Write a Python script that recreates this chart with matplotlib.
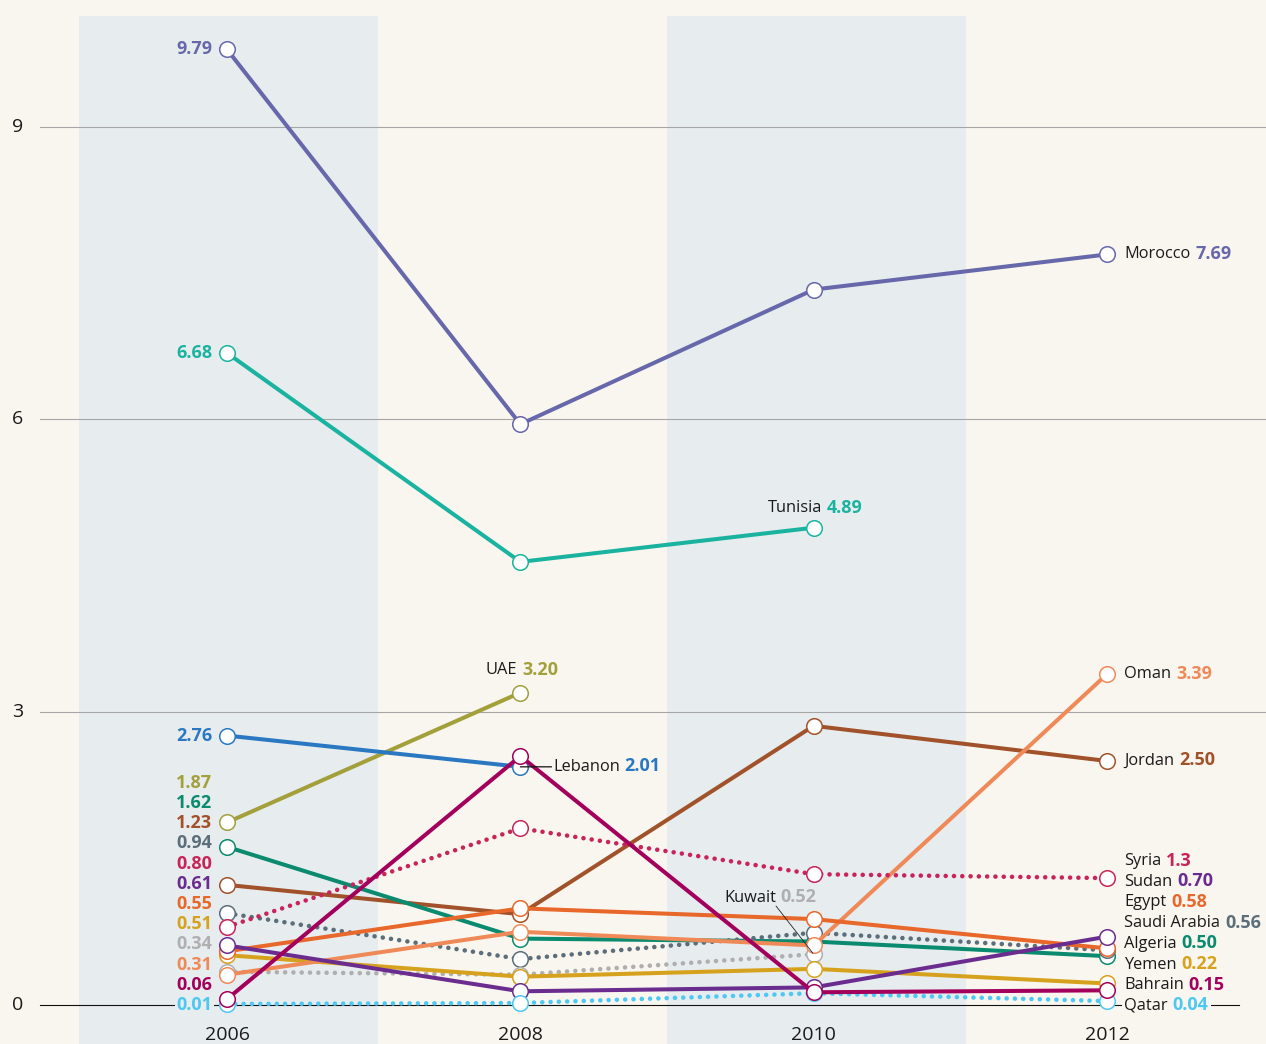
import numpy as np
import matplotlib.pyplot as plt

plt.rcParams['font.family'] = ['Open Sans', 'DejaVu Sans']

nan = np.nan
years = [2006, 2008, 2010, 2012]

# values (marker positions)
morocco = [9.79, 5.95, 7.33, 7.69]
tunisia = [6.68, 4.54, 4.89, nan]
uae = [1.87, 3.20, nan, nan]
lebanon = [2.76, 2.44, nan, nan]
bahrain = [0.06, 2.55, 0.13, 0.15]
syria = [0.80, 1.81, 1.34, 1.30]
jordan = [1.23, 0.93, 2.86, 2.50]
algeria = [1.62, 0.68, 0.65, 0.50]
saudi = [0.94, 0.47, 0.74, 0.56]
sudan = [0.61, 0.14, 0.18, 0.70]
egypt = [0.55, 0.99, 0.88, 0.58]
yemen = [0.51, 0.29, 0.37, 0.22]
kuwait = [0.34, 0.31, 0.52, nan]
oman = [0.31, 0.75, 0.61, 3.39]
qatar = [0.01, 0.02, 0.12, 0.04]

bg = '#f9f6ef'
band = '#e7ecee'

# name, values, colour, dotted
series = [
    ('Morocco', morocco, '#6767ab', False),
    ('Tunisia', tunisia, '#1ab3a0', False),
    ('UAE', uae, '#a3a03c', False),
    ('Lebanon', lebanon, '#2a78c2', False),
    ('Jordan', jordan, '#a1522a', False),
    ('Algeria', algeria, '#0a8a6e', False),
    ('Saudi Arabia', saudi, '#5b6e7a', True),
    ('Kuwait', kuwait, '#afafaf', True),
    ('Yemen', yemen, '#d6a21e', False),
    ('Oman', oman, '#ef8a58', False),
    ('Egypt', egypt, '#e8672a', False),
    ('Syria', syria, '#c8245a', True),
    ('Sudan', sudan, '#6a2d8f', False),
    ('Qatar', qatar, '#4cc8f2', True),
    ('Bahrain', bahrain, '#a3005c', False),
]
col = {s[0]: s[2] for s in series}

fig = plt.figure(figsize=(12.66, 10.44), dpi=100)
fig.patch.set_facecolor(bg)
ax = fig.add_axes([0, 0, 1, 1])
ax.set_facecolor(bg)
ax.set_xlim(2004.452, 2013.084)
ax.set_ylim(-0.40, 10.297)
ax.axis('off')

# shaded year bands
for x0, x1 in [(2004.99, 2007.03), (2009.0, 2011.04)]:
    ax.axvspan(x0, x1, ymin=0, ymax=0.9847, color=band, lw=0, zorder=0)

# grid
tfs = 14
for yv in [3, 6, 9]:
    ax.axhline(yv, xmin=0.0316, xmax=1, color='#a6a6a6', lw=0.8, zorder=1)
    ax.text(0.0142, yv, str(yv), transform=ax.get_yaxis_transform(),
            ha='center', va='center', fontsize=tfs, color='#1a1a1a')
ax.axhline(0, xmin=0.0316, xmax=0.979, color='#111111', lw=0.8, zorder=1)
ax.text(0.0142, 0, '0', transform=ax.get_yaxis_transform(),
        ha='center', va='center', fontsize=tfs, color='#1a1a1a')
for yr in years:
    ax.text(yr, -0.31, str(yr), ha='center', va='center', fontsize=tfs, color='#1a1a1a')

# lines and markers
for i, (name, vals, c, dotted) in enumerate(series):
    if dotted:
        ax.plot(years, vals, color=c, lw=3.3, ls=(0, (0.01, 1.8)),
                dash_capstyle='round', zorder=3 + i * 0.1)
    else:
        ax.plot(years, vals, color=c, lw=2.9, solid_capstyle='round', zorder=3 + i * 0.1)
    ax.plot(years, vals, 'o', ls='none', mfc='white', mec=c, ms=11.2, mew=1.1,
            zorder=3.05 + i * 0.1)

fs = 11.8   # names
nfs = 13.0  # bold values


def pair(x, y, name, value, c, ha='left', box=False):
    kw = {}
    if box:
        kw['bbox'] = dict(boxstyle='square,pad=0.15', fc=bg, ec='none')
    t = ax.text(x, y, name, ha=ha, va='center', fontsize=fs, color='#1a1a1a',
                zorder=6, **kw)
    ax.annotate(value, xy=(1, 0), xycoords=t, xytext=(3.5, -0.3), textcoords='offset points',
                ha='left', va='bottom', fontsize=nfs, fontweight='bold', color=c,
                zorder=6, **kw)
    return t


# left labels
lx = 2005.9
for v, name in [(9.79, 'Morocco'), (6.68, 'Tunisia'), (2.76, 'Lebanon')]:
    ax.text(lx, v, f'{v:.2f}', ha='right', va='center', fontsize=nfs,
            fontweight='bold', color=col[name], zorder=6)
left_stack = [('1.87', 'UAE'), ('1.62', 'Algeria'), ('1.23', 'Jordan'), ('0.94', 'Saudi Arabia'),
              ('0.80', 'Syria'), ('0.61', 'Sudan'), ('0.55', 'Egypt'), ('0.51', 'Yemen'),
              ('0.34', 'Kuwait'), ('0.31', 'Oman'), ('0.06', 'Bahrain'), ('0.01', 'Qatar')]
for k, (txt, name) in enumerate(left_stack):
    yy = (len(left_stack) - 1 - k) * 0.207
    ax.text(lx, yy, txt, ha='right', va='center', fontsize=nfs, fontweight='bold',
            color=col[name], zorder=6,
            bbox=dict(boxstyle='square,pad=0.1', fc=band, ec='none') if k == len(left_stack) - 1 else None)

# right labels
rx = 2012.116
pair(rx, morocco[3], 'Morocco', '7.69', col['Morocco'])
pair(rx, oman[3], 'Oman', '3.39', col['Oman'])
pair(rx, jordan[3], 'Jordan', '2.50', col['Jordan'])
right_stack = [('Syria', '1.3'), ('Sudan', '0.70'), ('Egypt', '0.58'), ('Saudi Arabia', '0.56'),
               ('Algeria', '0.50'), ('Yemen', '0.22'), ('Bahrain', '0.15'), ('Qatar', '0.04')]
for k, (name, txt) in enumerate(right_stack):
    yy = -0.01 + (len(right_stack) - 1 - k) * 0.212
    pair(rx, yy, name, txt, col[name], box=(name == 'Qatar'))

# in-chart labels
pair(2007.98, 3.43, 'UAE', '3.20', col['UAE'], ha='right')
pair(2010.055, 5.09, 'Tunisia', '4.89', col['Tunisia'], ha='right')
tk = pair(2009.743, 1.096, 'Kuwait', '0.52', col['Kuwait'], ha='right')
ax.annotate('', xy=(2010, kuwait[2]), xytext=(1, 0), textcoords=tk,
            arrowprops=dict(arrowstyle='-', lw=0.6, color='#222222', shrinkA=0, shrinkB=1),
            zorder=7)
tl = pair(2008.222, lebanon[1], 'Lebanon', '2.01', col['Lebanon'])
ax.annotate('', xy=(2008, lebanon[1]), xytext=(0, 0.5), textcoords=tl,
            arrowprops=dict(arrowstyle='-', lw=0.9, color='#111111', shrinkA=1, shrinkB=0),
            zorder=7)

fig.savefig('out.png', dpi=100, facecolor=bg)
